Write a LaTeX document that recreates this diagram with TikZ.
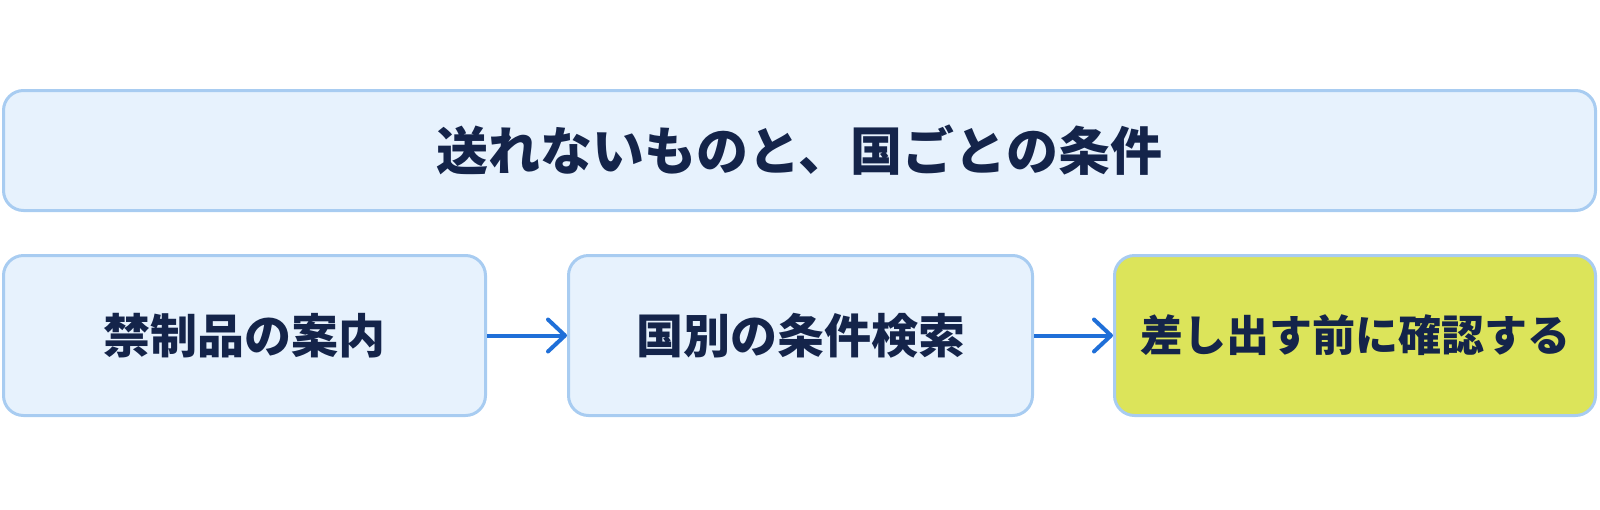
\documentclass[tikz,border=0pt]{standalone}
\usepackage{fontspec}
\usetikzlibrary{arrows.meta}
\newfontfamily\jpfont{Noto Sans CJK JP}
\definecolor{boxfill}{HTML}{E7F2FD}
\definecolor{boxline}{HTML}{A8CCF1}
\definecolor{checkfill}{HTML}{DCE45A}
\definecolor{inktext}{HTML}{14244A}
\definecolor{arrowblue}{HTML}{1F6FD8}

\begin{document}
\begin{tikzpicture}[x=1pt, y=-1pt,
  panel/.style={draw=boxline, fill=boxfill, line width=3pt, rounded corners=20pt,
    text=inktext, font=\jpfont\bfseries\fontsize{47}{52}\selectfont, inner sep=0pt},
  flow/.style={draw=arrowblue, line width=4pt, -{Straight Barb[length=17pt, width=32pt, line cap=round, line join=round]}}]
\useasboundingbox (0,0) rectangle (1600,509);
\node[panel, minimum width=1592pt, minimum height=120pt, font=\jpfont\bfseries\fontsize{52}{57}\selectfont] (title) at (799.5,150.5) {送れないものと、国ごとの条件};
\node[panel, minimum width=482pt, minimum height=160pt] (ban) at (244.5,335.5) {禁制品の案内};
\node[panel, minimum width=464pt, minimum height=160pt] (search) at (800.5,335.5) {国別の条件検索};
\node[panel, fill=checkfill, minimum width=481pt, minimum height=160pt, font=\jpfont\bfseries\fontsize{43}{48}\selectfont] (check) at (1355,335.5) {差し出す前に確認する};
\draw (ban.east) to (search.west) [flow];
\draw (search.east) to (check.west) [flow];
\end{tikzpicture}
\end{document}
